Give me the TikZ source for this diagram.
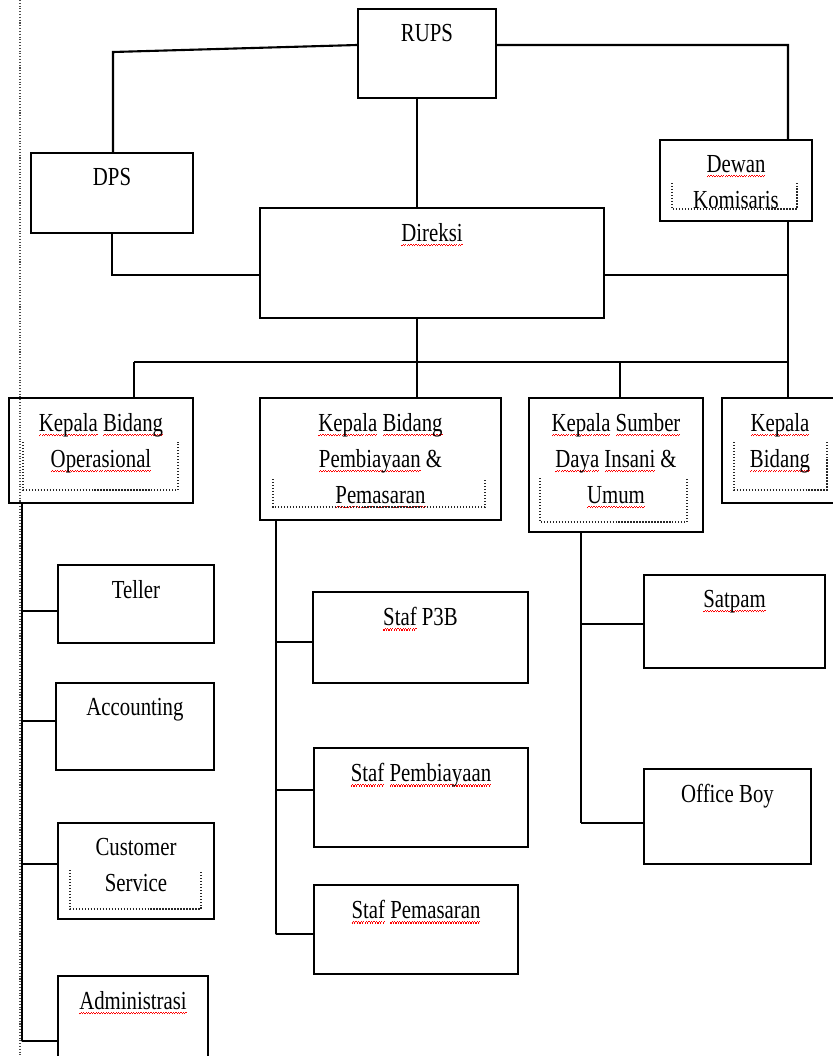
\documentclass[tikz,border=0pt]{standalone}
\usepackage{fontspec}
\usepackage{xcolor}
\usepackage{tikz}
\usetikzlibrary{positioning,calc}
\setmainfont{Liberation Serif}[FakeStretch=0.8]
% red wavy underline under a word
\newcommand\spl[1]{\setbox0\hbox{#1}\rlap{\color{red}\lower2.8pt\hbox to\wd0{\xleaders\hbox{\rule{0.7pt}{0.7pt}\rule[0.7pt]{0.7pt}{0.7pt}}\hfil}}\box0\relax}

\begin{document}
\begin{tikzpicture}[
        box/.style={rectangle, draw=black, line width=1.2pt, inner sep=0pt},
        lbl/.style={anchor=north, inner sep=0pt, yshift=-0.32cm, align=center, font=\fontsize{14.8}{20.5}\selectfont},
        line/.style={draw=black, line width=1.2pt},
        frame/.style={densely dotted, line width=0.7pt, black!85},
        margin/.style={densely dotted, line width=0.6pt, black!70}]

        \useasboundingbox (0,0) rectangle (16.66,-21.12);

        % Margin
        \draw[margin] (0.4,0) -- (0.4,-21.12);

        % Nodes
        \node[box, minimum width=2.76cm, minimum height=1.78cm, label={[lbl]north:RUPS}] (rups) at (8.54,-1.07) {};
        \node[box, minimum width=3.24cm, minimum height=1.6cm, label={[lbl]north:DPS}] (dps) at (2.24,-3.86) {};
        \node[box, minimum width=3.04cm, minimum height=1.62cm, label={[lbl]north:\spl{Dewan}\\Komisaris}] (kom) at (14.72,-3.61) {};
        \node[box, minimum width=6.88cm, minimum height=2.2cm, label={[lbl]north:\spl{Direksi}}] (dir) at (8.64,-5.26) {};

        \node[box, minimum width=3.68cm, minimum height=2.1cm, label={[lbl]north:\spl{Kepala} \spl{Bidang}\\\spl{Operasional}}] (kbo) at (2.02,-9.01) {};
        \node[box, minimum width=4.82cm, minimum height=2.44cm, label={[lbl]north:\spl{Kepala} \spl{Bidang}\\\spl{Pembiayaan} \&\\\spl{Pemasaran}}] (kbp) at (7.61,-9.18) {};
        \node[box, minimum width=3.48cm, minimum height=2.68cm, label={[lbl]north:\spl{Kepala} \spl{Sumber}\\\spl{Daya} \spl{Insani} \&\\\spl{Umum}}] (ksdi) at (12.32,-9.30) {};
        \node[box, minimum width=2.46cm, minimum height=2.1cm, label={[lbl, xshift=-0.07cm]north:\spl{Kepala}\\\spl{Bidang}}] (kb) at (15.67,-9.01) {};

        \node[box, minimum width=3.12cm, minimum height=1.56cm, label={[lbl]north:Teller}] (tel) at (2.72,-12.08) {};
        \node[box, minimum width=3.16cm, minimum height=1.74cm, label={[lbl]north:Accounting}] (acc) at (2.70,-14.53) {};
        \node[box, minimum width=3.12cm, minimum height=1.92cm, label={[lbl]north:Customer\\Service}] (cs) at (2.72,-17.42) {};
        \node[box, minimum width=3.0cm, minimum height=1.88cm, label={[lbl]north:\spl{Administrasi}}] (adm) at (2.66,-20.46) {};

        \node[box, minimum width=4.3cm, minimum height=1.82cm, label={[lbl]north:\spl{Staf} P3B}] (p3b) at (8.41,-12.75) {};
        \node[box, minimum width=4.28cm, minimum height=1.98cm, label={[lbl]north:\spl{Staf} \spl{Pembiayaan}}] (spb) at (8.42,-15.95) {};
        \node[box, minimum width=4.08cm, minimum height=1.78cm, label={[lbl]north:\spl{Staf} \spl{Pemasaran}}] (spm) at (8.32,-18.59) {};

        \node[box, minimum width=3.62cm, minimum height=1.86cm, label={[lbl]north:\spl{Satpam}}] (sat) at (14.69,-12.43) {};
        \node[box, minimum width=3.34cm, minimum height=1.9cm, label={[lbl]north:Office Boy}] (ob) at (14.55,-16.33) {};

        % Text frames
        \draw[frame] (13.44,-3.66) |- (15.94,-4.18) -- (15.94,-3.66);
        \draw[frame] (0.46,-8.84) |- (3.56,-9.80) -- (3.56,-8.84);
        \draw[frame] (5.46,-9.58) |- (9.70,-10.14) -- (9.70,-9.58);
        \draw[frame] (10.80,-9.56) |- (13.74,-10.44) -- (13.74,-9.56);
        \draw[frame] (14.68,-8.84) |- (16.54,-9.80) -- (16.54,-8.84);
        \draw[frame] (1.40,-17.40) |- (4.02,-18.18) -- (4.02,-17.40);

        % Connections
        \coordinate (lbus) at (2.26,-1.04);
        \coordinate (rbus) at (15.76,-0.9);
        \coordinate (ctr) at (8.34,-7.24);
        \coordinate (b1) at (2.68,-7.24);
        \coordinate (b3) at (12.40,-7.24);
        \coordinate (dj) at ([yshift=-0.24cm]dir.east);

        \draw[line] ([yshift=0.17cm]rups.west) -- (lbus) -- (lbus |- dps.north);
        \draw[line] ([yshift=0.17cm]rups.east) -- (rbus) -- (rbus |- kom.north);
        \draw[line] (ctr |- rups.south) -- (ctr |- dir.north);
        \draw[line] (dps.south) |- ([yshift=-0.24cm]dir.west);
        \draw[line] (dj) -- (dj -| rbus);
        \draw[line] (rbus |- kom.south) -- (rbus |- kb.north);

        \draw[line] (ctr |- dir.south) -- (ctr);
        \draw[line] (b1) -- (ctr -| rbus);
        \draw[line] (b1) -- (b1 |- kbo.north);
        \draw[line] (ctr) -- (ctr |- kbp.north);
        \draw[line] (b3) -- (b3 |- ksdi.north);

        % Staff lines
        \coordinate (lt) at (0.44,-20.82);
        \coordinate (mt) at (5.52,-18.68);
        \coordinate (rt) at (11.62,-16.46);

        \draw[line] (lt |- kbo.south) -- (lt);
        \draw[line] ([yshift=-0.14cm]tel.west) -| (lt);
        \draw[line] ([yshift=0.11cm]acc.west) -| (lt);
        \draw[line] ([yshift=0.14cm]cs.west) -| (lt);
        \draw[line] ([yshift=-0.36cm]adm.west) -| (lt);

        \draw[line] (mt |- kbp.south) -- (mt);
        \draw[line] ([yshift=-0.09cm]p3b.west) -| (mt);
        \draw[line] ([yshift=0.15cm]spb.west) -| (mt);
        \draw[line] ([yshift=-0.09cm]spm.west) -| (mt);

        \draw[line] (rt |- ksdi.south) -- (rt);
        \draw[line] ([yshift=-0.05cm]sat.west) -| (rt);
        \draw[line] ([yshift=-0.13cm]ob.west) -| (rt);

    \end{tikzpicture}
\end{document}
